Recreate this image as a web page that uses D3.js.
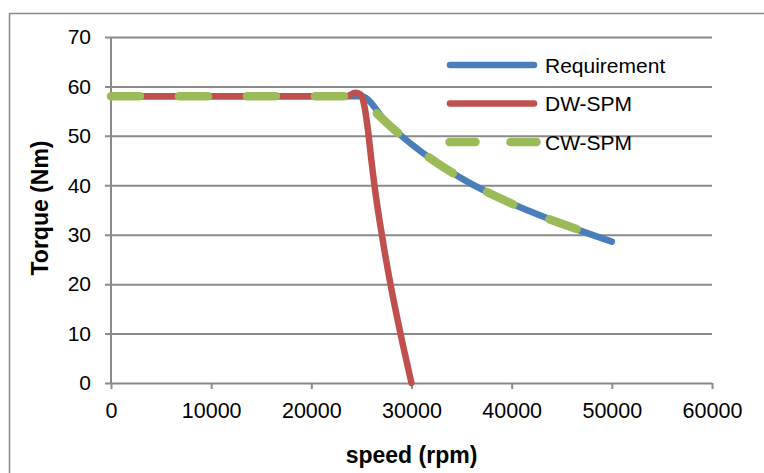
<!DOCTYPE html>
<html>
<head>
<meta charset="utf-8">
<script src="https://cdn.jsdelivr.net/npm/d3@7"></script>
<style>
  body { margin: 0; background: #fff; }
  svg text { font-family: "Liberation Sans", Arial, sans-serif; fill: #000; }
</style>
</head>
<body>
<div id="viz"></div>
<script>
// values
var speedTicks  = [0, 10000, 20000, 30000, 40000, 50000, 60000],
    torqueTicks = [0, 10, 20, 30, 40, 50, 60, 70],

    reqSpeed  = [0, 25000, 27500, 30000, 35000, 40000, 45000, 50000],
    reqTorque = [58, 58, 52.7, 48.3, 41.4, 36.3, 32.2, 28.6],

    dwSpeed  = [0, 23500, 24400, 24900, 25300, 25600, 26000, 26400, 26800, 27200, 27900, 28900, 30000],
    dwTorque = [58, 58, 58.7, 58.4, 56, 52, 45, 38.5, 33, 28, 20, 10, 0],

    cwSpeed  = [0, 24000, 25000, 26000, 27500, 30000, 35000, 40000, 45000, 47000],
    cwTorque = [58, 58, 57.5, 55.6, 52.7, 48.3, 41.4, 36.3, 32.2, 30.8],

    seriesNames = ['Requirement', 'DW-SPM', 'CW-SPM'];

var W = 764, H = 473,
    plotLeft = 111, plotRight = 712, plotTop = 37, plotBottom = 383,
    gridColor = '#8a8a8a';

var svg = d3.select('#viz')
    .append('svg')
        .attr('width', W)
        .attr('height', H);

// outer frame (runs off the right and bottom edges)
svg.append('path')
    .attr('d', 'M9.5,' + H + 'V13.5H' + W)
    .style('fill', 'none')
    .style('stroke', gridColor)
    .style('stroke-width', 1.5);

var x = d3.scaleLinear().domain([0, 60000]).range([plotLeft, plotRight]),
    y = d3.scaleLinear().domain([0, 70]).range([plotBottom, plotTop]);

// horizontal gridlines + y axis labels
var yAxis = svg.append('g')
    .attr('transform', 'translate(' + plotLeft + ',0)')
    .call(d3.axisLeft(y).tickValues(torqueTicks).tickSize(-(plotRight - plotLeft)).tickPadding(20));
yAxis.select('.domain').remove();
yAxis.selectAll('.tick line')
    .attr('x1', -6)
    .style('stroke', gridColor)
    .style('stroke-width', 2);
yAxis.selectAll('.tick text')
    .style('font-size', '21px');

// x axis
var xAxis = svg.append('g')
    .attr('transform', 'translate(0,' + plotBottom + ')')
    .call(d3.axisBottom(x).tickValues(speedTicks).tickSize(6).tickPadding(14).tickFormat(d3.format('d')));
xAxis.select('.domain').remove();
xAxis.selectAll('.tick line')
    .style('stroke', gridColor)
    .style('stroke-width', 2);
xAxis.selectAll('.tick text')
    .style('font-size', '21.5px');

// y axis line
svg.append('line')
    .attr('x1', plotLeft).attr('x2', plotLeft)
    .attr('y1', plotTop).attr('y2', plotBottom)
    .style('stroke', gridColor)
    .style('stroke-width', 2);

// axis titles
svg.append('text')
    .attr('x', (plotLeft + plotRight) / 2)
    .attr('y', 463)
    .attr('text-anchor', 'middle')
    .style('font-size', '23px')
    .style('font-weight', 'bold')
    .text('speed (rpm)');

svg.append('text')
    .attr('transform', 'translate(48,' + ((plotTop + plotBottom) / 2 - 2) + ') rotate(-90)')
    .attr('text-anchor', 'middle')
    .style('font-size', '23px')
    .style('font-weight', 'bold')
    .text('Torque (Nm)');

var toPoints = function (xs, ys) {
        return xs.map(function (d, i) { return [d, ys[i]]; });
    },

    line = d3.line()
        .x(function (d) { return x(d[0]); })
        .y(function (d) { return y(d[1]); })
        .curve(d3.curveMonotoneX),

    series = [
        {name: seriesNames[0], pts: toPoints(reqSpeed, reqTorque), color: '#4a7ebb', width: 6.5, dash: null},
        {name: seriesNames[1], pts: toPoints(dwSpeed, dwTorque),   color: '#c0504d', width: 6.5, dash: null},
        {name: seriesNames[2], pts: toPoints(cwSpeed, cwTorque),   color: '#9bbb59', width: 8.5, dash: '29,39'}
    ];

var curvesGroup = svg.append('g').attr('class', 'curves');

series.forEach(function (s) {
    curvesGroup.append('path')
        .attr('d', line(s.pts))
        .style('fill', 'none')
        .style('stroke', s.color)
        .style('stroke-width', s.width)
        .style('stroke-linecap', 'round')
        .style('stroke-linejoin', 'round')
        .style('stroke-dasharray', s.dash);
});

// legend
var legend = svg.append('g').attr('class', 'legend');
series.forEach(function (s, i) {
    var ly = 65 + i * 38.5;
    legend.append('line')
        .attr('x1', s.dash ? 449.5 : 450).attr('x2', s.dash ? 536.5 : 534)
        .attr('y1', ly).attr('y2', ly)
        .style('stroke', s.color)
        .style('stroke-width', s.width)
        .style('stroke-linecap', 'round')
        .style('stroke-dasharray', s.dash ? '26,35' : null);
    legend.append('text')
        .attr('x', 545)
        .attr('y', ly + 7.5)
        .style('font-size', '21px')
        .text(s.name);
});
</script>
</body>
</html>
